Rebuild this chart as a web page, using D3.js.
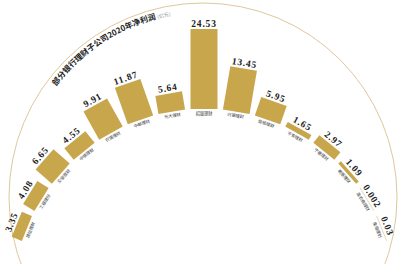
<!DOCTYPE html>
<html>
<head>
<meta charset="utf-8">
<script src="https://cdn.jsdelivr.net/npm/d3@7"></script>
<style>
  body { margin: 0; background: #fff; }
  svg { display: block; }
</style>
</head>
<body>
<svg id="chart"></svg>
<script>
(function () {
  const names = ['建信理财', '工银理财', '交银理财', '中银理财', '农银理财', '中邮理财', '光大理财',
    '招银理财', '兴银理财', '信银理财', '平安理财', '宁银理财', '徽银理财', '渝农商理财', '南银理财'];
  const values = [3.35, 4.08, 6.65, 4.55, 9.91, 11.87, 5.64, 24.53, 13.45, 5.95, 1.65, 2.97, 1.09, 0.002, 0.03];
  const valueLabels = ['3.35', '4.08', '6.65', '4.55', '9.91', '11.87', '5.64', '24.53', '13.45', '5.95',
    '1.65', '2.97', '1.09', '0.002', '0.03'];
  const title = '部分银行理财子公司2020年净利润';
  const unit = '(亿元)';

  const width = 400;
  const height = 264;
  const svg = d3.select('#chart').attr('width', width).attr('height', height);

  const gold = '#c8a64c';

  // decorative outer ring
  const ring = { x: 203, y: 197, r: 194 };
  svg.append('circle')
    .attr('cx', ring.x).attr('cy', ring.y).attr('r', ring.r)
    .attr('fill', 'none')
    .attr('stroke', '#ddc99b')
    .attr('stroke-width', 1);

  // title along the ring
  const rad = (deg) => (deg * Math.PI) / 180;
  const tr = 184;
  const a0 = rad(-53), a1 = rad(-5);
  const p0 = [ring.x + tr * Math.sin(a0), ring.y - tr * Math.cos(a0)];
  const p1 = [ring.x + tr * Math.sin(a1), ring.y - tr * Math.cos(a1)];
  svg.append('defs').append('path')
    .attr('id', 'title-path')
    .attr('d', `M${p0[0]},${p0[1]} A${tr},${tr} 0 0 1 ${p1[0]},${p1[1]}`);

  const titleText = svg.append('text')
    .attr('font-family', '"Noto Sans CJK SC", sans-serif')
    .attr('font-size', 8)
    .attr('font-weight', 'bold')
    .attr('fill', '#222');
  const tp = titleText.append('textPath').attr('href', '#title-path');
  tp.append('tspan').text(title);
  tp.append('tspan').attr('dx', 1.5).attr('font-size', 5).attr('font-weight', 'normal')
    .attr('fill', '#888').text(unit);

  // radial bars
  const cx = 204;
  const cy = 300;
  const r0 = 191;
  const barWidth = 27;

  const angle = d3.scalePoint().domain(names).range([-68, 68]);
  const len = d3.scaleLinear().domain([0, 24.53]).range([0, 80]);

  const data = names.map((name, i) => ({ name, value: values[i], label: valueLabels[i] }));

  const groups = svg.append('g')
    .selectAll('g')
    .data(data)
    .join('g')
    .attr('transform', (d) => `translate(${cx},${cy}) rotate(${angle(d.name)})`);

  groups.append('rect')
    .attr('x', -barWidth / 2)
    .attr('y', (d) => -(r0 + Math.max(1, len(d.value))))
    .attr('width', barWidth)
    .attr('height', (d) => Math.max(1, len(d.value)))
    .attr('fill', (d) => (len(d.value) < 1 ? '#e6dcc0' : gold));

  groups.append('text')
    .attr('y', (d) => -(r0 + Math.max(1, len(d.value)) + 2.5))
    .attr('text-anchor', 'middle')
    .attr('font-family', '"Liberation Serif", serif')
    .attr('font-weight', 'bold')
    .attr('font-size', 9.5)
    .attr('letter-spacing', 0.8)
    .attr('fill', '#222')
    .text((d) => d.label);

  groups.append('text')
    .attr('y', -(r0 - 5.5))
    .attr('text-anchor', 'middle')
    .attr('font-family', '"Noto Sans CJK SC", sans-serif')
    .attr('font-size', 4.2)
    .attr('fill', '#333')
    .text((d) => d.name);
})();
</script>
</body>
</html>
